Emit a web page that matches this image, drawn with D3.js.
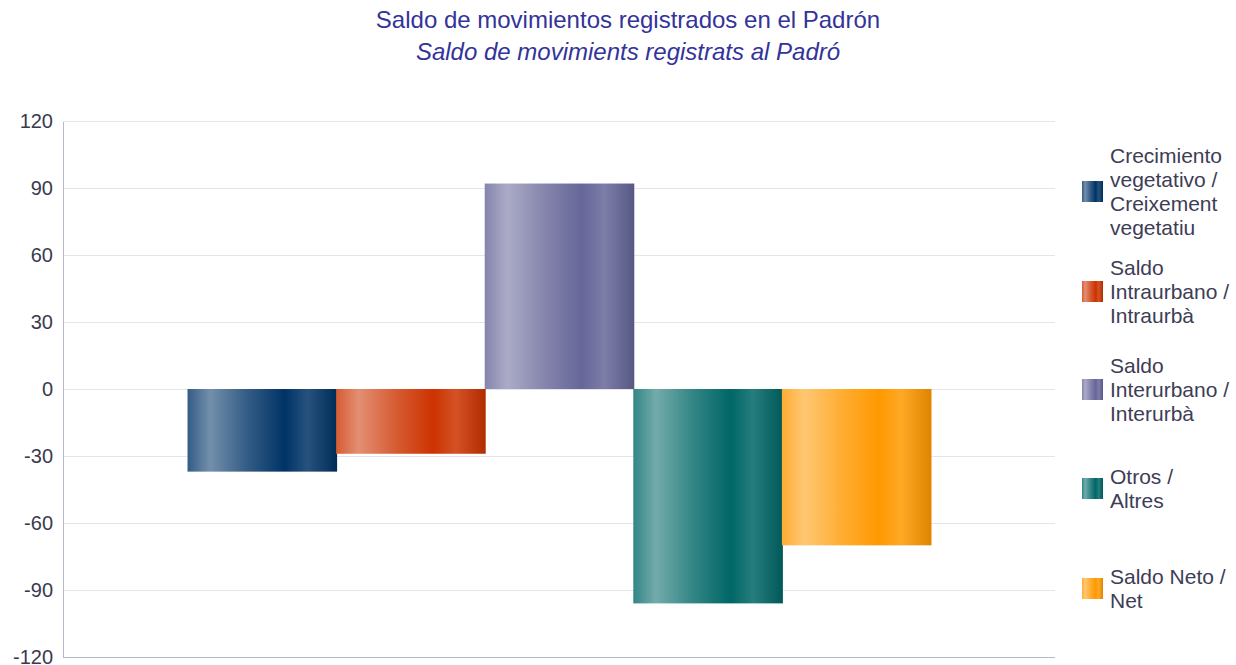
<!DOCTYPE html>
<html>
<head>
<meta charset="utf-8">
<script src="https://cdn.jsdelivr.net/npm/d3@7"></script>
<style>
    body { margin: 0; background: #fff; font-family: "Liberation Sans", Arial, sans-serif; }
    .axis path, .axis line { shape-rendering: crispEdges; }
</style>
</head>
<body>
<div id="svg_container"></div>
<script>
// data
var titles = ["Saldo de movimientos registrados en el Padrón", "Saldo de movimients registrats al Padró"];
var seriesNames = [
    ["Crecimiento", "vegetativo /", "Creixement", "vegetatiu"],
    ["Saldo", "Intraurbano /", "Intraurbà"],
    ["Saldo", "Interurbano /", "Interurbà"],
    ["Otros /", "Altres"],
    ["Saldo Neto /", "Net"]
];
var seriesValues = [-37, -29, 92, -96, -70];
var seriesColors = ["#003366", "#cc3300", "#666699", "#006666", "#ff9900"];
var yTicks = [-120, -90, -60, -30, 0, 30, 60, 90, 120];

var width = 1236, height = 665;
var margin = {top: 121, left: 63, right: 181, bottom: 8};
var graphWidth = width - margin.left - margin.right;
var graphHeight = height - margin.top - margin.bottom;

var svg = d3.select("#svg_container")
        .append("svg")
        .attr("width", width)
        .attr("height", height);

// gradients, one per series
var defs = svg.append("defs");
seriesColors.forEach(function (c, i) {
    var base = d3.color(c);
    var w = d3.interpolateRgb(c, "#ffffff");
    var g = defs.append("linearGradient")
            .attr("id", "grad" + i)
            .attr("x1", "0%").attr("x2", "100%")
            .attr("y1", "0%").attr("y2", "0%");
    var stops = [
        [0, w(0.2)],
        [0.15, w(0.45)],
        [0.4, w(0.2)],
        [0.65, base.toString()],
        [0.8, w(0.15)],
        [1, base.darker(0.4).toString()]
    ];
    stops.forEach(function (s) {
        g.append("stop").attr("offset", s[0]).attr("stop-color", s[1]);
    });
});

// titles
svg.append("text")
        .attr("x", 628).attr("y", 28)
        .attr("text-anchor", "middle")
        .attr("fill", "#333399")
        .style("font-size", "24px")
        .text(titles[0]);
svg.append("text")
        .attr("x", 628).attr("y", 60)
        .attr("text-anchor", "middle")
        .attr("fill", "#333399")
        .style("font-size", "24px")
        .style("font-style", "italic")
        .text(titles[1]);

var g = svg.append("g")
        .attr("transform", "translate(" + margin.left + "," + margin.top + ")");

var y = d3.scaleLinear().domain([-120, 120]).range([graphHeight, 0]);
var x0 = d3.scaleBand().domain(["all"]).range([0, graphWidth]).paddingInner(0).paddingOuter(0.1676);
var x1 = d3.scaleBand().domain(d3.range(seriesValues.length)).range([0, x0.bandwidth()]);

// gridlines
g.append("g")
        .selectAll("line")
        .data(yTicks)
        .join("line")
        .attr("x1", 0).attr("x2", graphWidth)
        .attr("y1", function (d) { return Math.round(y(d)) + 0.5; })
        .attr("y2", function (d) { return Math.round(y(d)) + 0.5; })
        .attr("stroke", "#e4e4ec")
        .attr("stroke-width", 1);

// bars
g.append("g")
        .selectAll("rect")
        .data(seriesValues)
        .join("rect")
        .attr("x", function (d, i) { return x0("all") + x1(i); })
        .attr("width", x1.bandwidth() + 1)
        .attr("y", function (d) { return y(Math.max(0, d)); })
        .attr("height", function (d) { return Math.abs(y(d) - y(0)); })
        .attr("fill", function (d, i) { return "url(#grad" + i + ")"; });

// left axis
var yAxis = g.append("g")
        .attr("class", "y axis")
        .call(d3.axisLeft(y).tickValues(yTicks).tickSize(0).tickPadding(10)
                .tickFormat(function (d) { return String(d); }));
yAxis.select(".domain").attr("stroke", "#b8b8cc");
yAxis.selectAll("text")
        .attr("fill", "#3a3a4e")
        .style("font-size", "20px")
        .style("font-family", "'Liberation Sans', Arial, sans-serif");

// bottom line
g.append("line")
        .attr("x1", 0).attr("x2", graphWidth)
        .attr("y1", graphHeight + 0.5).attr("y2", graphHeight + 0.5)
        .attr("stroke", "#b8b8cc");

// legend
var legendCenters = [191, 291, 389, 488, 588];
var legend = svg.append("g");
seriesNames.forEach(function (lines, i) {
    var cy = legendCenters[i];
    legend.append("rect")
            .attr("x", 1082).attr("y", cy - 10)
            .attr("width", 21).attr("height", 21)
            .attr("fill", "url(#grad" + i + ")");
    var lh = 24;
    var t = legend.append("text")
            .attr("fill", "#3d3d55")
            .style("font-size", "21px");
    lines.forEach(function (l, j) {
        t.append("tspan")
                .attr("x", 1110)
                .attr("y", cy + 8 + (j - (lines.length - 1) / 2) * lh)
                .text(l);
    });
});
</script>
</body>
</html>
